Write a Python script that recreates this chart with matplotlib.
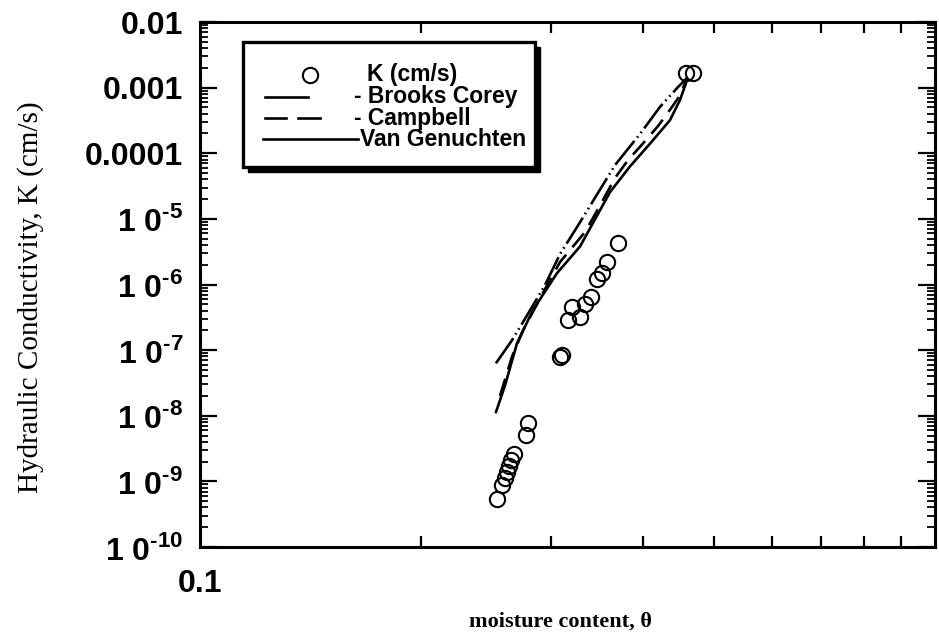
import matplotlib
matplotlib.use("Agg")
import matplotlib.pyplot as plt
from matplotlib.ticker import FixedLocator, FixedFormatter, LogLocator, NullFormatter
from matplotlib.patches import Rectangle
from matplotlib.lines import Line2D

# measured hydraulic conductivity
theta_obs = [0.2533, 0.2573, 0.2600, 0.2614, 0.2633, 0.2649, 0.2674, 0.2777, 0.2795,
             0.3089, 0.3108, 0.3167, 0.3207, 0.3289, 0.3341, 0.3404, 0.3468, 0.3524,
             0.3579, 0.3704, 0.4583, 0.4685]
k_obs = [5.4e-10, 8.8e-10, 1.12e-9, 1.38e-9, 1.71e-9, 2.10e-9, 2.60e-9, 5.1e-9, 7.7e-9,
         7.8e-8, 8.4e-8, 2.86e-7, 4.5e-7, 3.2e-7, 5.0e-7, 6.4e-7, 1.21e-6, 1.49e-6,
         2.2e-6, 4.3e-6, 1.67e-3, 1.67e-3]

# model curves
theta_bc = [0.2527, 0.2658, 0.2751, 0.2947, 0.3089, 0.3289, 0.3670, 0.3968, 0.4226, 0.4470, 0.4598]
k_bc = [6.3e-8, 1.42e-7, 2.67e-7, 9.8e-7, 2.9e-6, 8.9e-6, 6.6e-5, 1.96e-4, 5.1e-4, 1.02e-3, 1.40e-3]

theta_cb = [0.2559, 0.2658, 0.2751, 0.2947, 0.3089, 0.3341, 0.3501, 0.3670, 0.3820, 0.4010, 0.4200, 0.4360, 0.4499, 0.4598]
k_cb = [2.0e-8, 8.0e-8, 2.0e-7, 8.5e-7, 2.2e-6, 6.3e-6, 1.6e-5, 4.2e-5, 7.8e-5, 1.43e-4, 2.6e-4, 4.6e-4, 7.6e-4, 1.40e-3]

theta_vg = [0.2527, 0.2600, 0.2700, 0.2839, 0.3060, 0.3289, 0.3613, 0.3846, 0.4095, 0.4360, 0.4499, 0.4583, 0.4598]
k_vg = [1.13e-8, 2.9e-8, 1.28e-7, 4.1e-7, 1.49e-6, 3.8e-6, 2.56e-5, 6.3e-5, 1.4e-4, 3.2e-4, 6.5e-4, 1.17e-3, 1.40e-3]

y_ticks = [1e-10, 1e-9, 1e-8, 1e-7, 1e-6, 1e-5, 1e-4, 1e-3, 1e-2]
y_labels = ['1 0$^{\\mathbf{\u2010}\\mathbf{10}}$', '1 0$^{\\mathbf{\u2010}\\mathbf{9}}$',
            '1 0$^{\\mathbf{\u2010}\\mathbf{8}}$', '1 0$^{\\mathbf{\u2010}\\mathbf{7}}$',
            '1 0$^{\\mathbf{\u2010}\\mathbf{6}}$', '1 0$^{\\mathbf{\u2010}\\mathbf{5}}$',
            '0.0001', '0.001', '0.01']
x_ticks = [0.1]
x_labels = ['0.1']

plt.rcParams['lines.scale_dashes'] = False
plt.rcParams['mathtext.fontset'] = 'custom'
plt.rcParams['mathtext.rm'] = 'Liberation Sans'
plt.rcParams['mathtext.bf'] = 'Liberation Sans:bold'

W, H = 939, 636
fig = plt.figure(figsize=(W / 100, H / 100), dpi=100)


def fx(px):
    return px / W


def fy(py):
    return 1 - py / H


ax = fig.add_axes([fx(200), fy(547), fx(935) - fx(200), fy(22) - fy(547)])
ax.set_xscale('log')
ax.set_yscale('log')
ax.set_xlim(0.1, 1.0)
ax.set_ylim(1e-10, 1e-2)

ax.plot(theta_vg, k_vg, color='black', lw=1.9, solid_capstyle='round')
ax.plot(theta_cb, k_cb, color='black', lw=1.9, linestyle=(0, (13, 7)))
ax.plot(theta_bc, k_bc, color='black', lw=1.9, linestyle=(0, (22, 3, 1.2, 3, 1.2, 3)))
ax.plot(theta_obs, k_obs, linestyle='none', marker='o', ms=11, mfc='none',
        mec='black', mew=1.5)

for s in ax.spines.values():
    s.set_linewidth(2.2)

ax.yaxis.set_major_locator(FixedLocator(y_ticks))
ax.yaxis.set_major_formatter(FixedFormatter(y_labels))
ax.yaxis.set_minor_locator(LogLocator(base=10, subs=range(2, 10), numticks=20))
ax.yaxis.set_minor_formatter(NullFormatter())
ax.xaxis.set_major_locator(FixedLocator(x_ticks))
ax.xaxis.set_major_formatter(FixedFormatter(x_labels))
ax.xaxis.set_minor_locator(FixedLocator([0.2, 0.3, 0.4, 0.5, 0.6, 0.7, 0.8, 0.9]))
ax.xaxis.set_minor_formatter(NullFormatter())

ax.tick_params(axis='y', which='major', direction='in', length=12, width=1.6,
               left=True, right=True, labelsize=23, pad=12)
ax.tick_params(axis='y', which='minor', direction='in', length=6, width=1.3,
               left=True, right=True)
ax.tick_params(axis='x', which='major', direction='in', length=0, labelsize=23, pad=16)
ax.tick_params(axis='x', which='minor', direction='in', length=8, width=1.6,
               bottom=True, top=True)
for lab in ax.get_xticklabels() + ax.get_yticklabels():
    lab.set_fontfamily('Liberation Sans')
    lab.set_fontweight('bold')

fig.text(fx(31), fy(297), 'Hydraulic Conductivity, K (cm/s)', rotation=90,
         ha='center', va='center', fontsize=21, family='Liberation Serif')
fig.text(fx(560), fy(622), 'moisture content, θ', ha='center', va='center',
         fontsize=16, family='Liberation Serif', fontweight='bold')

# legend panel with drop shadow
lx0, ly0, lx1, ly1 = 243, 42, 535, 167
fig.patches.append(Rectangle((fx(lx0 + 5), fy(ly1 + 5)), fx(lx1) - fx(lx0), fy(ly0) - fy(ly1),
                             transform=fig.transFigure, facecolor='black', edgecolor='black',
                             zorder=5))
fig.patches.append(Rectangle((fx(lx0), fy(ly1)), fx(lx1) - fx(lx0), fy(ly0) - fy(ly1),
                             transform=fig.transFigure, facecolor='white', edgecolor='black',
                             lw=2.4, zorder=6))

leg_font = dict(fontsize=16.5, family='Liberation Sans', fontweight='bold',
                va='center', ha='left', zorder=7)
fig.lines.append(Line2D([fx(310)], [fy(75)], marker='o', ms=11, mfc='none', mec='black',
                        mew=1.5, transform=fig.transFigure, zorder=7))
fig.text(fx(367), fy(75), 'K (cm/s)', **leg_font)

fig.lines.append(Line2D([fx(265), fx(308)], [fy(97), fy(97)], color='black', lw=1.9,
                        transform=fig.transFigure, zorder=7))
fig.text(fx(354), fy(97), '- Brooks Corey', **leg_font)

fig.lines.append(Line2D([fx(265), fx(286)], [fy(118), fy(118)], color='black', lw=1.9,
                        transform=fig.transFigure, zorder=7))
fig.lines.append(Line2D([fx(298), fx(320)], [fy(118), fy(118)], color='black', lw=1.9,
                        transform=fig.transFigure, zorder=7))
fig.text(fx(354), fy(118), '- Campbell', **leg_font)

fig.lines.append(Line2D([fx(263), fx(358)], [fy(139), fy(139)], color='black', lw=1.9,
                        transform=fig.transFigure, zorder=7))
fig.text(fx(360), fy(139), 'Van Genuchten', **leg_font)

fig.savefig('out.png', dpi=100)
